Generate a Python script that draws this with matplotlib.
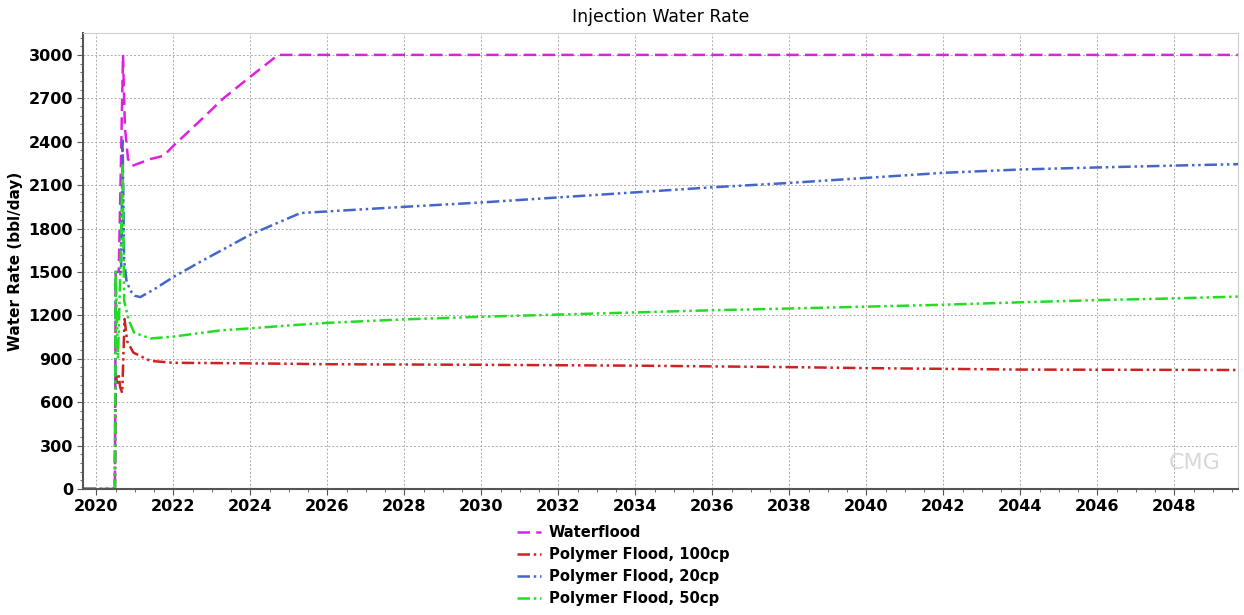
import matplotlib
matplotlib.use("Agg")
import matplotlib.pyplot as plt
from matplotlib.ticker import MultipleLocator

# Waterflood
wf_t = [2019.66, 2020.48, 2020.50, 2020.58, 2020.64, 2020.69, 2020.74, 2020.82, 2020.93,
        2021.1, 2021.4, 2021.75, 2022.0, 2022.7, 2023.3, 2024.0, 2024.72, 2030.0, 2040.0, 2049.7]
wf_v = [0, 0, 1500, 1500, 2300, 3000, 2500, 2280, 2233,
        2250, 2280, 2303, 2372, 2547, 2700, 2850, 3000, 3000, 3000, 3000]

# Polymer Flood, 100cp
p100_t = [2019.66, 2020.48, 2020.50, 2020.54, 2020.58, 2020.62, 2020.67, 2020.73, 2020.80,
          2020.96, 2021.4, 2022.0, 2024.0, 2026.0, 2030.0, 2034.0, 2038.0, 2040.0,
          2044.0, 2049.7]
p100_v = [0, 0, 800, 720, 780, 700, 663, 1175, 1020,
          942, 885, 872, 868, 862, 858, 852, 842, 835,
          825, 822]

# Polymer Flood, 20cp
p20_t = [2019.66, 2020.48, 2020.50, 2020.64, 2020.68, 2020.72, 2020.78, 2020.88, 2021.0,
         2021.14, 2021.5, 2022.0, 2022.7, 2024.0, 2025.3, 2028.0, 2030.0, 2032.0, 2034.0,
         2036.0, 2038.0, 2040.0, 2042.0, 2044.0, 2046.0, 2048.0, 2049.7]
p20_v = [0, 0, 1500, 1500, 2420, 1580, 1440, 1370, 1335,
         1326, 1380, 1465, 1570, 1758, 1907, 1950, 1980, 2015, 2050,
         2085, 2115, 2150, 2185, 2208, 2222, 2235, 2245]

# Polymer Flood, 50cp
p50_t = [2019.66, 2020.48, 2020.50, 2020.56, 2020.62, 2020.68, 2020.72, 2020.84, 2020.98,
         2021.4, 2022.0, 2023.2, 2024.0, 2025.0, 2026.0, 2028.0, 2030.0, 2032.0, 2034.0,
         2036.0, 2038.0, 2040.0, 2042.0, 2044.0, 2046.0, 2048.0, 2049.7]
p50_v = [0, 0, 1500, 900, 1500, 2250, 1300, 1165, 1080,
         1040, 1053, 1095, 1110, 1130, 1148, 1172, 1190, 1205, 1220,
         1235, 1247, 1260, 1273, 1290, 1305, 1317, 1330]

series = [
    ("Waterflood", wf_t, wf_v, "#e020e0", (0, (5, 2.5))),
    ("Polymer Flood, 100cp", p100_t, p100_v, "#cc2222", (0, (5, 1.5, 1, 1.5, 1, 1.5))),
    ("Polymer Flood, 20cp", p20_t, p20_v, "#4466cc", (0, (5, 1.5, 1, 1.5, 1, 1.5))),
    ("Polymer Flood, 50cp", p50_t, p50_v, "#22dd22", (0, (5, 1.5, 1, 1.5, 1, 1.5))),
]

fig = plt.figure(figsize=(12.44, 6.15), dpi=100)
ax = fig.add_axes([0.067, 0.205, 0.928, 0.741])

for name, t, v, c, ls in series:
    ax.plot(t, v, color=c, linestyle=ls, linewidth=1.8, label=name)

ax.set_xlim(2019.66, 2049.65)
ax.set_ylim(0, 3150)
ax.xaxis.set_major_locator(MultipleLocator(2))
ax.xaxis.set_minor_locator(MultipleLocator(0.5))
ax.yaxis.set_major_locator(MultipleLocator(300))
ax.yaxis.set_minor_locator(MultipleLocator(60))
ax.grid(True, which="major", color="#aaaaaa", linestyle=(0, (2, 2)), linewidth=0.7)
ax.set_axisbelow(True)

for lab in ax.get_xticklabels() + ax.get_yticklabels():
    lab.set_fontweight("bold")
ax.tick_params(axis="both", which="major", labelsize=11.5, length=4, color="#555555")
ax.tick_params(axis="both", which="minor", length=2, color="#555555")
ax.spines["left"].set_color("#555555")
ax.spines["bottom"].set_color("#555555")
ax.spines["left"].set_linewidth(1.5)
ax.spines["bottom"].set_linewidth(1.5)
ax.spines["top"].set_color("#cccccc")
ax.spines["right"].set_color("#cccccc")

ax.set_ylabel("Water Rate (bbl/day)", fontsize=11, fontweight="bold")
ax.set_title("Injection Water Rate", fontsize=12.5, pad=8)

# watermark
ax.text(0.985, 0.035, "CMG", transform=ax.transAxes, ha="right", va="bottom",
        fontsize=16, color="#d8d8d8")

leg = fig.legend(loc="upper left", bbox_to_anchor=(0.41, 0.158), frameon=False,
                 fontsize=10.6, handlelength=1.6, handletextpad=0.55,
                 labelspacing=0.48, borderpad=0)
for txt in leg.get_texts():
    txt.set_fontweight("bold")

fig.savefig("out.png", dpi=100)
